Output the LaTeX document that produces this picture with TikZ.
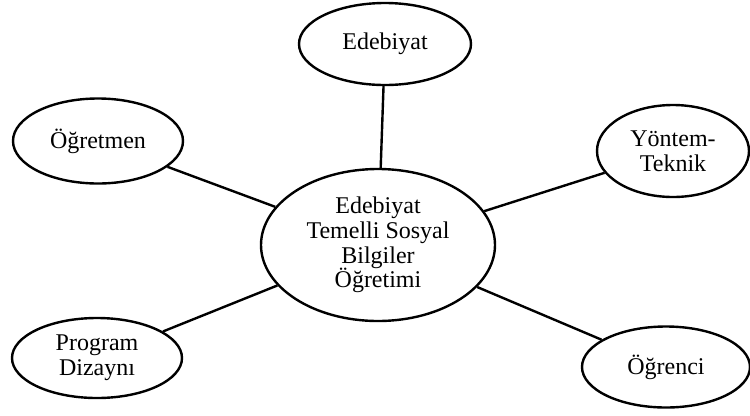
\documentclass[tikz,border=0pt]{standalone}
\usepackage{fontspec}
\setmainfont{Liberation Serif}
\usetikzlibrary{shapes.geometric}
\tikzset{
  bubble/.style={ellipse, draw, line width=1.8pt, inner sep=0pt, align=center,
    font=\fontsize{18}{18.6}\selectfont},
  link/.style={line width=1.8pt}
}
\begin{document}
\begin{tikzpicture}[x=0.75pt,y=-0.75pt]
\useasboundingbox (0,0) rectangle (750,415);
\node[bubble, minimum width=234*0.75pt, minimum height=152*0.75pt] (c) at (378,245) {Edebiyat\\Temelli Sosyal\\Bilgiler\\Öğretimi};
\node[bubble, minimum width=172*0.75pt, minimum height=82*0.75pt] (e) at (385,44) {Edebiyat};
\node[bubble, minimum width=170*0.75pt, minimum height=85*0.75pt] (o) at (98,141) {Öğretmen};
\node[bubble, minimum width=152*0.75pt, minimum height=92*0.75pt] (y) at (673,151) {Yöntem-\\Teknik};
\node[bubble, minimum width=170*0.75pt, minimum height=80*0.75pt] (p) at (97,358) {Program\\Dizaynı};
\node[bubble, minimum width=168*0.75pt, minimum height=81*0.75pt] (s) at (666,367) {Öğrenci};
\draw[link] (c) -- (e);
\draw[link] (c) -- (o);
\draw[link] (c) -- (y);
\draw[link] (c) -- (p);
\draw[link] (c) -- (s);
\end{tikzpicture}
\end{document}
